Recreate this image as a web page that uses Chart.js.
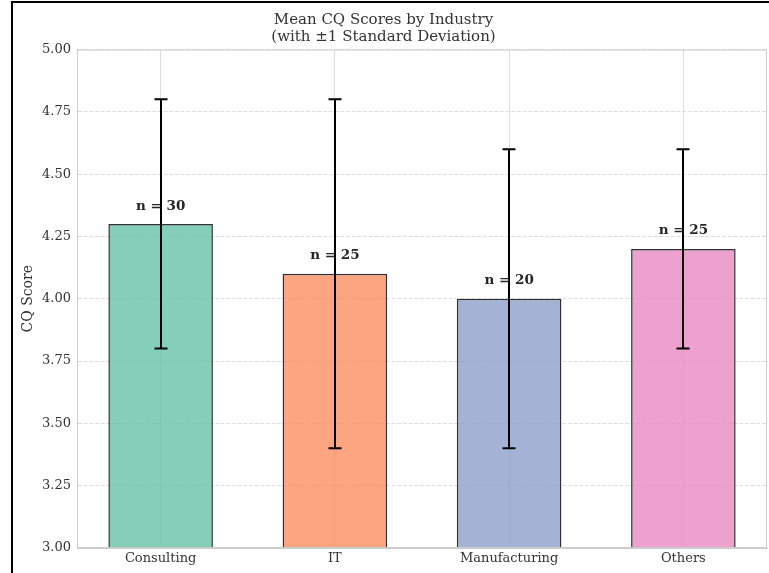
<!DOCTYPE html>
<html>
<head>
<meta charset="utf-8">
<script src="https://cdn.jsdelivr.net/npm/chart.js@4"></script>
<style>
  html, body { margin: 0; padding: 0; background: #fff; overflow: hidden; }
  #wrap { position: relative; width: 769px; height: 573px; }
  #frame { position: absolute; left: 11px; top: 1px; width: 800px; height: 620px; border: 2px solid #000; box-sizing: border-box; pointer-events: none; }
  canvas { position: absolute; left: 0; top: 0; }
</style>
</head>
<body>
<div id="wrap">
  <canvas id="c" width="769" height="573"></canvas>
  <div id="frame"></div>
</div>
<script>
const categories = ['Consulting', 'IT', 'Manufacturing', 'Others'];
const means = [4.3, 4.1, 4.0, 4.2];
const stds = [0.5, 0.7, 0.6, 0.4];
const counts = [30, 25, 20, 25];
const barColors = ['rgba(102,194,165,0.8)', 'rgba(252,141,98,0.8)', 'rgba(141,160,203,0.8)', 'rgba(231,138,195,0.8)'];
const yTicks = [3.00, 3.25, 3.50, 3.75, 4.00, 4.25, 4.50, 4.75, 5.00];

const SERIF = '"DejaVu Serif", serif';

const framePlugin = {
  id: 'frameBox',
  afterDraw(chart) {
    const {ctx, chartArea: a} = chart;
    ctx.save();
    ctx.strokeStyle = '#cccccc';
    ctx.lineWidth = 1;
    ctx.strokeRect(a.left + 0.5, a.top + 0.5, a.right - a.left - 1, a.bottom - a.top - 1);
    ctx.restore();
  }
};

const errorPlugin = {
  id: 'errorBars',
  afterDatasetsDraw(chart) {
    const {ctx} = chart;
    const meta = chart.getDatasetMeta(0);
    const y = chart.scales.y;
    ctx.save();
    ctx.strokeStyle = '#000';
    ctx.lineWidth = 2;
    meta.data.forEach((bar, i) => {
      const x = Math.round(bar.x);
      const yTop = y.getPixelForValue(means[i] + stds[i]);
      const yBot = y.getPixelForValue(means[i] - stds[i]);
      ctx.beginPath();
      ctx.moveTo(x, yTop); ctx.lineTo(x, yBot);
      ctx.moveTo(x - 6.5, yTop); ctx.lineTo(x + 6.5, yTop);
      ctx.moveTo(x - 6.5, yBot); ctx.lineTo(x + 6.5, yBot);
      ctx.stroke();
    });
    ctx.fillStyle = '#262626';
    ctx.font = 'bold 13.5px ' + SERIF;
    ctx.textAlign = 'center';
    ctx.textBaseline = 'alphabetic';
    meta.data.forEach((bar, i) => {
      const ty = y.getPixelForValue(means[i] + 0.05) - 2;
      ctx.fillText('n = ' + counts[i], bar.x, ty);
    });
    ctx.restore();
  }
};

new Chart(document.getElementById('c'), {
  type: 'bar',
  data: {
    datasets: [{
      data: means.map((m, i) => ({ x: i, y: m })),
      backgroundColor: barColors,
      borderColor: 'rgba(25,25,30,0.9)',
      borderWidth: 1.5,
      borderSkipped: false,
      barPercentage: 0.6,
      categoryPercentage: 1.0
    }]
  },
  options: {
    responsive: false,
    animation: false,
    devicePixelRatio: 1,
    layout: { padding: { left: 0, right: 2, top: 3, bottom: 0 } },
    plugins: {
      legend: { display: false },
      tooltip: { enabled: false },
      title: {
        display: true,
        text: ['Mean CQ Scores by Industry', '(with \u00b11 Standard Deviation)'],
        color: '#333',
        font: { family: SERIF, size: 15, weight: 'normal', lineHeight: 1.15 },
        padding: { top: 8, bottom: 4 }
      }
    },
    scales: {
      x: {
        type: 'linear',
        offset: false,
        min: -0.48,
        max: 3.48,
        afterBuildTicks(scale) { scale.ticks = categories.map((c, i) => ({ value: i })); },
        grid: { display: true, offset: false, color: '#dddddd', lineWidth: 1, drawTicks: false },
        border: { display: true, color: '#cccccc' },
        ticks: {
          color: '#333',
          font: { family: SERIF, size: 13 },
          padding: 3,
          callback: v => categories[v]
        },
        afterFit(scale) { scale.height = 25; }
      },
      y: {
        min: 3.0,
        max: 5.0,
        afterBuildTicks(scale) { scale.ticks = yTicks.map(v => ({ value: v })); },
        grid: { color: '#dddddd', lineWidth: 1, drawTicks: false },
        border: { display: true, color: '#cccccc', dash: [4, 1.7] },
        ticks: {
          color: '#333',
          font: { family: SERIF, size: 13 },
          padding: 6,
          callback: v => Number(v).toFixed(2)
        },
        title: {
          display: true,
          text: 'CQ Score',
          color: '#333',
          font: { family: SERIF, size: 14 },
          padding: { top: 20, bottom: 0 }
        },
        afterFit(scale) { scale.width = 77; }
      }
    }
  },
  plugins: [framePlugin, errorPlugin]
});
</script>
</body>
</html>
